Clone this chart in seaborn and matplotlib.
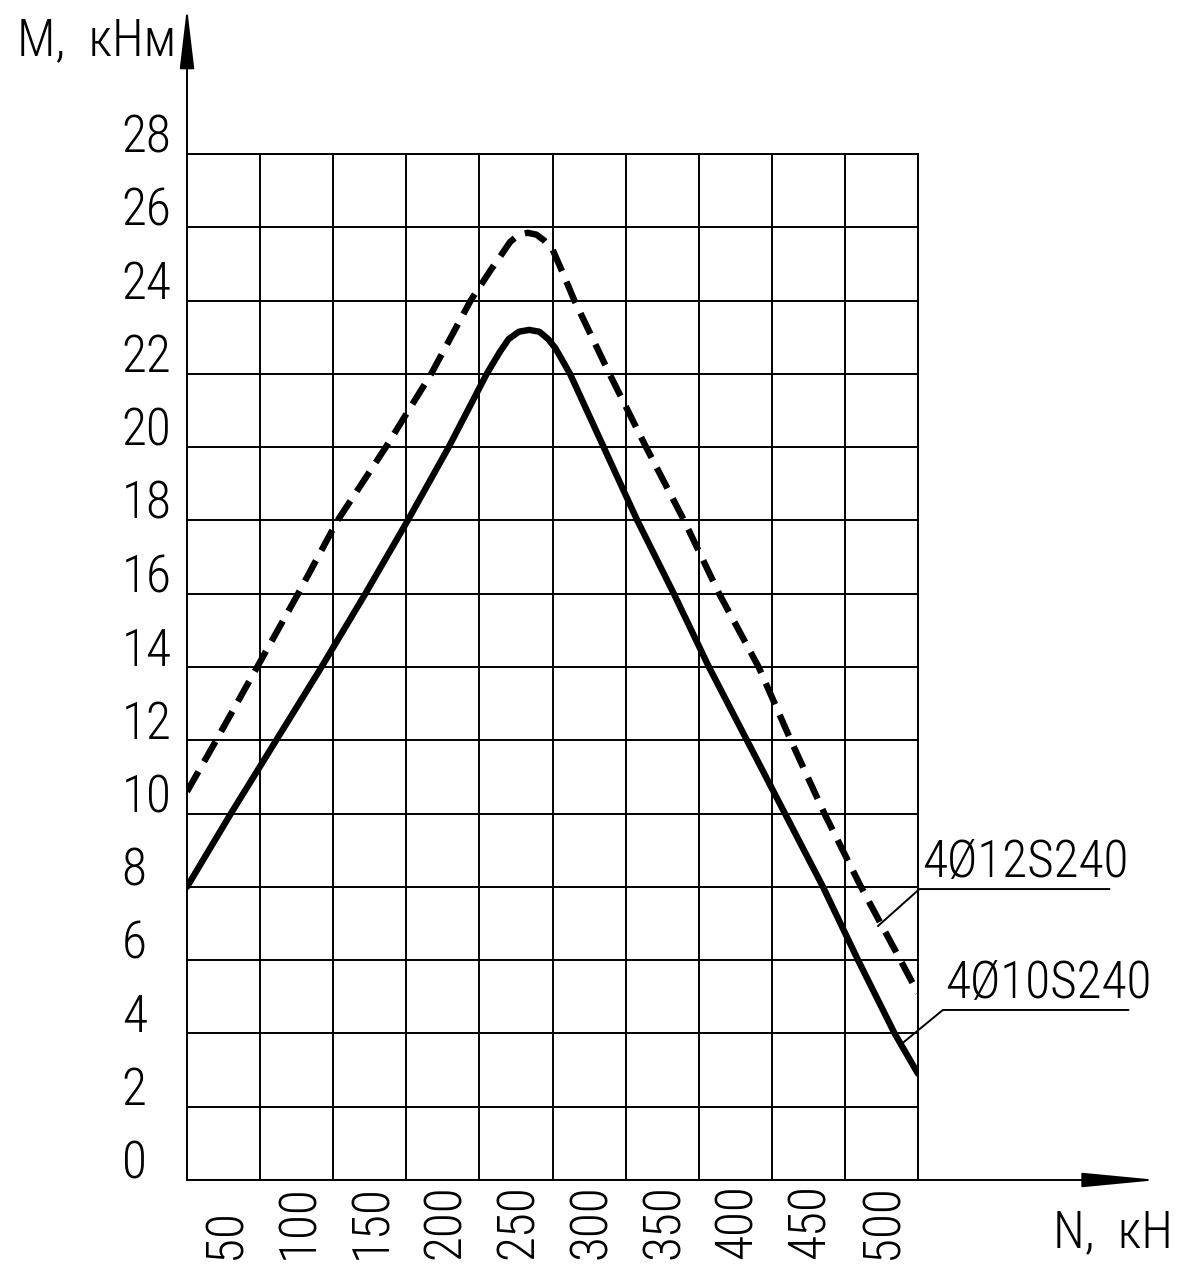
import matplotlib
matplotlib.use('Agg')
import matplotlib.pyplot as plt
import matplotlib.transforms as mtransforms
from matplotlib import font_manager
import seaborn as sns

# Data: N (kN) vs M (kNm)
n_4d10 = [0, 30, 61, 92, 122, 151, 179, 205, 214, 220, 227, 234, 241, 247, 252,
          262, 285, 308, 333, 357, 383, 409, 435, 459, 484, 500]
m_4d10 = [8, 10, 12, 14, 16, 18, 20, 22, 22.6, 22.95, 23.15, 23.2, 23.15, 22.95, 22.7,
          22, 20, 18, 16, 14, 12, 10, 8, 6, 4, 2.9]

n_4d12 = [0, 20, 48, 76, 103, 136, 167, 194, 208, 215, 221, 227, 233, 239, 244, 250,
          256, 265, 289, 314, 340, 364, 391, 413, 436, 461, 488, 500]
m_4d12 = [10.6, 12, 14, 16, 18, 20, 22, 24, 24.85, 25.25, 25.6, 25.8, 25.85, 25.8,
          25.65, 25.4, 24.85, 24, 22, 20, 18, 16, 14, 12, 10, 8, 6, 5.1]

x_ticks = list(range(50, 501, 50))
y_ticks = list(range(0, 29, 2))
series_labels = ['4Ø12S240', '4Ø10S240']

sns.set_style('white')

# pick a narrow font if one is installed
entries = font_manager.fontManager.ttflist
names = {f.name for f in entries}
FS = 37
stretch = 'normal'
family = None
for cand in ['Liberation Sans Narrow', 'Roboto Condensed', 'Open Sans Condensed',
             'Noto Sans Condensed', 'DejaVu Sans Condensed']:
    if cand in names:
        family = cand
        break
if family is None:
    cond = [f for f in entries if f.name == 'DejaVu Sans' and f.stretch == 'condensed'
            and f.style == 'normal']
    if cond:
        family, stretch = 'DejaVu Sans', 'condensed'
    else:
        family, FS = 'Liberation Sans', 33

plt.rcParams['font.family'] = [family, 'DejaVu Sans']
plt.rcParams['font.stretch'] = stretch
plt.rcParams['font.weight'] = 'light'
plt.rcParams['text.color'] = 'black'
plt.rcParams['xtick.color'] = 'black'
plt.rcParams['ytick.color'] = 'black'

fig = plt.figure(figsize=(11.88, 12.8), dpi=100)
ax = fig.add_axes([187 / 1188, 100 / 1280, 731 / 1188, 1026 / 1280])

# Curves
sns.lineplot(x=n_4d10, y=m_4d10, ax=ax, color='black', lw=4.6, sort=False,
             estimator=None, solid_joinstyle='round')
sns.lineplot(x=n_4d12, y=m_4d12, ax=ax, color='black', lw=4.6, sort=False,
             estimator=None, linestyle=(0, (3.6, 1.8)), dash_capstyle='butt')

ax.set_xlim(0, 500)
ax.set_ylim(0, 28)
ax.set_xticks(x_ticks, [str(v) for v in x_ticks])
ax.set_yticks(y_ticks, [str(v) for v in y_ticks])
ax.set_xlabel('')
ax.set_ylabel('')

# Grid and frame
ax.grid(True, color='black', linewidth=1.4)
for sp in ax.spines.values():
    sp.set_color('black')
    sp.set_linewidth(1.4)

ax.tick_params(axis='both', length=0, labelsize=FS, labelcolor='black')
ax.tick_params(axis='x', labelrotation=90, pad=57)
ax.tick_params(axis='y', pad=47)

for lab in ax.get_xticklabels():
    lab.set_rotation_mode('anchor')
    lab.set_ha('left')
    lab.set_va('baseline')
    lab.set_transform(lab.get_transform() +
                      mtransforms.ScaledTranslation(-0.20, 0, fig.dpi_scale_trans))

for lab in ax.get_yticklabels():
    lab.set_ha('left')
    lab.set_va('baseline')
    lab.set_transform(lab.get_transform() +
                      mtransforms.ScaledTranslation(0, 0.015, fig.dpi_scale_trans))

# Axis arrows
ax.annotate('', xy=(0, 1.143), xytext=(0, 1), xycoords='axes fraction',
            annotation_clip=False,
            arrowprops=dict(arrowstyle='-|>,head_length=3.8,head_width=0.45',
                            mutation_scale=10, lw=1.4, color='black',
                            shrinkA=0, shrinkB=0))
ax.annotate('', xy=(1.328, 0), xytext=(1, 0), xycoords='axes fraction',
            annotation_clip=False,
            arrowprops=dict(arrowstyle='-|>,head_length=4.7,head_width=0.45',
                            mutation_scale=10, lw=1.4, color='black',
                            shrinkA=0, shrinkB=0))

fig.text(17 / 1188, 1 - 55 / 1280, 'M,  кНм', fontsize=FS, ha='left', va='baseline')
fig.text(1053 / 1188, 1 - 1247 / 1280, 'N,  кН', fontsize=FS, ha='left', va='baseline')

# Leader lines with labels
ax.plot([472.6, 501, 631], [6.93, 7.94, 7.94], color='black', lw=1.4, clip_on=False)
ax.text(502.7, 8.27, series_labels[0], fontsize=FS, ha='left', va='baseline')
ax.plot([487.7, 517, 644], [3.68, 4.64, 4.64], color='black', lw=1.4, clip_on=False)
ax.text(518.5, 4.97, series_labels[1], fontsize=FS, ha='left', va='baseline')

fig.savefig('out.png', dpi=100)
